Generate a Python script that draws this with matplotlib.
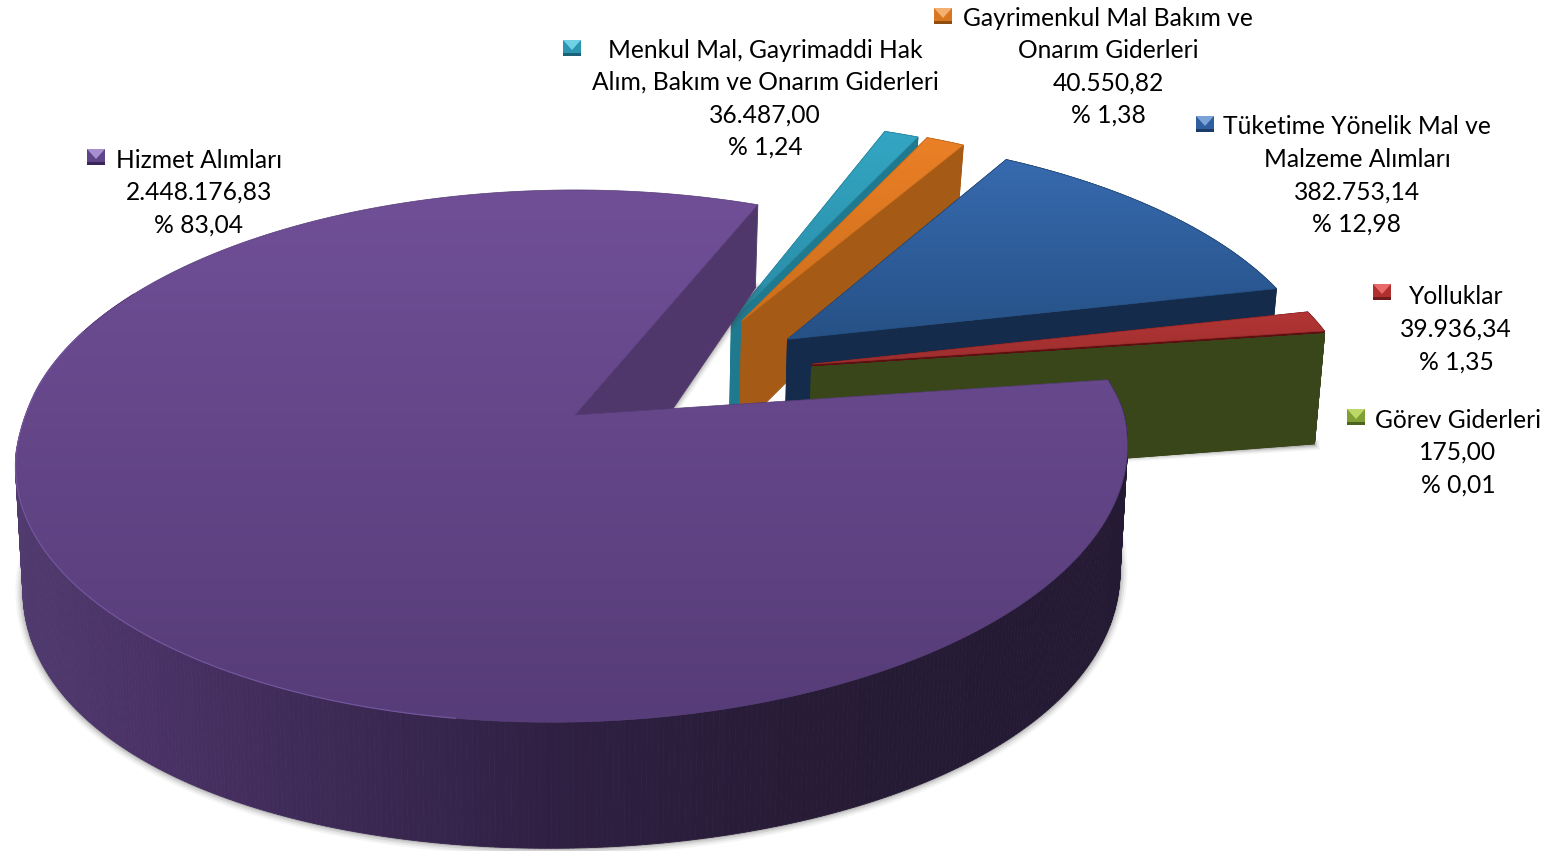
import numpy as np
import matplotlib
matplotlib.use("Agg")
import matplotlib.pyplot as plt
from matplotlib.colors import LinearSegmentedColormap, to_rgb
from matplotlib.patches import Polygon

names = ["Menkul Mal, Gayrimaddi Hak\nAlım, Bakım ve Onarım Giderleri",
         "Gayrimenkul Mal Bakım ve\nOnarım Giderleri",
         "Tüketime Yönelik Mal ve\nMalzeme Alımları",
         "Yolluklar",
         "Görev Giderleri",
         "Hizmet Alımları"]
values = [36487.00, 40550.82, 382753.14, 39936.34, 175.00, 2448176.83]

# camera of the fake 3d pie (pixels)
CX, CY = 575, 415
A, B, K = 549.4, 259.7, 0.154
A_BOT, CY_BOT, B_BOT, K_BOT = 542, 536, 287.7, 0.078
START = 22.1
# the original's perspective squeezes the small slices a bit
SQUEEZE_SMALL, STRETCH_BIG = 0.982, 1.0045

# how far each slice is pulled out, and in which direction
explode_r = [0.49, 0.50, 0.507, 0.489, 0.482, 0.0]
explode_dir = [38, 40, 53, 65.6, 66.8, 0]

top_cols = [("#33a6c3", "#2a8ba6"), ("#eb8026", "#cc6e1c"), ("#376aaf", "#265186"),
            ("#b43535", "#9c2e2e"), ("#39461a", "#39461a"), ("#704f97", "#563c78")]
wall_cols = ["#207a8f", "#a55a15", "#152b4b", "#5c0f10", "#39461a", "#50376b"]
key_cols = [("#6fd0e6", "#2c95b0", "#1b6276"), ("#f4b070", "#d9761f", "#8f4d10"),
            ("#7ba3d8", "#2f5f9f", "#1b3a66"), ("#e86a6a", "#b03030", "#6e1c1c"),
            ("#bcd868", "#80a035", "#4c6320"), ("#a890d0", "#5f4488", "#38265a")]

# text centre, first line y, legend key left/y
label_pos = [(765, 50, 563, 48), (1108, 18, 934, 16), (1357, 127, 1196, 124),
             (1456, 297, 1373, 292), (1458, 420, 1347, 417), (199, 160, 87, 157)]
LINE_H = 32.5


def project(u, v, bottom=False, warp=False):
    if bottom:
        x, y = CX + A_BOT * u / (1 + K * v), CY_BOT - B_BOT * v / (1 + K_BOT * v)
    else:
        x, y = CX + A * u / (1 + K * v), CY - B * v / (1 + K * v)
    if warp:
        # near half of the big slice leans slightly, left side lower
        wgt = np.clip((0.1 - v) / 0.2, 0, 1)
        x = x - 3.5 * wgt
        y = y - 0.018 * (x - CX) * wgt
    return x, y


def tr_num(x):
    return f"{x:,.2f}".replace(",", "#").replace(".", ",").replace("#", ".")


def quad(ax, x, y, col, z):
    ax.add_patch(Polygon(np.column_stack([x, y]), closed=True, fc=col, ec=col, lw=0.6, zorder=z))


def draw_slice(ax, i, t0, t1, z):
    big = i == 5
    ox = explode_r[i] * np.sin(np.radians(explode_dir[i]))
    oy = explode_r[i] * np.cos(np.radians(explode_dir[i]))
    deg = np.linspace(t0, t1, max(3, int((t1 - t0) * 2)))
    th = np.radians(deg)
    u, v = ox + np.sin(th), oy + np.cos(th)
    xt, yt = project(u, v, warp=big)
    xb, yb = project(u, v, True, warp=big)
    xa, ya = project(np.array([ox]), np.array([oy]))
    xc, yc = project(np.array([ox]), np.array([oy]), True)

    # soft shadow under the lower edges
    for w, al in zip([15, 11, 7, 3], [0.05, 0.08, 0.12, 0.2]):
        if big:
            sel = (deg > 92) & (deg < 285)
            ax.plot(xb[sel], yb[sel], color="#404040", lw=w * 0.72, alpha=al, zorder=z,
                    solid_capstyle="round")
            # shadow in the gap, below the wall of the big slice
            ax.plot([xc[0], xb[-1]], [yc[0] + 16, yb[-1]], color="#404040", lw=w * 0.6, alpha=al, zorder=z)
        if i == 4:
            ax.plot([xb[-1], 1125], [yb[-1] + 1, yb[-1] + 13], color="#404040", lw=w * 0.5, alpha=al, zorder=z)

    # inner walls
    if big:
        quad(ax, [xa[0], xt[-1], xb[-1], xc[0]], [ya[0], yt[-1], yb[-1], yc[0] + 16], wall_cols[i], z + 0.1)
    else:
        quad(ax, [xa[0], xt[0], xb[0], xc[0]], [ya[0], yt[0], yb[0], yc[0]], wall_cols[i], z + 0.1)
        quad(ax, [xa[0], xt[-1], xb[-1], xc[0]], [ya[0], yt[-1], yb[-1], yc[0]], wall_cols[i], z + 0.1)

    # outer rim, shaded across the picture for the big slice
    rim_x = [20, 150, 300, 550, 800, 1125]
    rim_c = np.array([to_rgb(c) for c in ["#503a6e", "#4a3266", "#3f2b58", "#2f2043", "#271b36", "#241a33"]])
    for j in range(len(th) - 1):
        if big:
            if deg[j] < 80 or deg[j] > 300:
                continue
            mx = (xb[j] + xb[j + 1]) / 2
            col = [np.interp(mx, rim_x, rim_c[:, c]) for c in range(3)]
        else:
            col = wall_cols[i]
        quad(ax, [xt[j], xt[j + 1], xb[j + 1], xb[j]], [yt[j], yt[j + 1], yb[j + 1], yb[j]], col, z + 0.2)

    # top face with vertical gradient
    px = np.r_[xa, xt]
    py = np.r_[ya, yt]
    poly = Polygon(np.column_stack([px, py]), closed=True, fc="none", ec="none", zorder=z + 0.3)
    ax.add_patch(poly)
    cmap = LinearSegmentedColormap.from_list("g", top_cols[i])
    im = ax.imshow(np.linspace(0, 1, 256).reshape(-1, 1), cmap=cmap, aspect="auto",
                   extent=(px.min(), px.max(), py.max(), py.min()), zorder=z + 0.3)
    im.set_clip_path(poly)
    ax.add_patch(Polygon(np.column_stack([px, py]), closed=True, fc="none",
                         ec=top_cols[i][1], lw=0.5, zorder=z + 0.31))
    if big:
        sel = (deg > 190) & (deg < 290)
        ax.plot(xt[sel], yt[sel], color="#7a5ca8", lw=0.9, alpha=0.8, zorder=z + 0.32)


def draw_key(ax, x, y, cols):
    w, h = 18, 16
    lt, md, dk = cols
    mx, my = x + w / 2, y + h / 2
    ax.add_patch(Polygon([[x, y], [x + w, y], [x + w, y + h], [x, y + h]], fc=md, ec="none", zorder=20))
    ax.add_patch(Polygon([[x, y], [x + w, y], [mx, my + 2]], fc=lt, ec="none", zorder=21))
    ax.add_patch(Polygon([[x, y + h - 3], [x + w, y + h - 3], [x + w, y + h], [x, y + h]],
                         fc=dk, ec="none", zorder=21))


def main():
    plt.rcParams["font.family"] = ["Lato", "DejaVu Sans"]
    fig = plt.figure(figsize=(15.49, 8.51), dpi=100)
    ax = fig.add_axes([0, 0, 1, 1])
    ax.axis("off")

    total = sum(values)
    t = START
    for i, val in enumerate(values):
        sweep = val / total * 360
        sweep *= STRETCH_BIG if i == 5 else SQUEEZE_SMALL
        draw_slice(ax, i, t, t + sweep, z=2 + i)
        t += sweep

    for i, name in enumerate(names):
        cx, y0, kx, ky = label_pos[i]
        pct = values[i] / total * 100
        lines = name.split("\n") + [tr_num(values[i]), "% " + f"{pct:.2f}".replace(".", ",")]
        for j, line in enumerate(lines):
            ax.text(cx, y0 + j * LINE_H, line, ha="center", va="center", fontsize=17.75,
                    color="black", zorder=30)
        draw_key(ax, kx, ky - 8, key_cols[i])

    ax.set_xlim(0, 1549)
    ax.set_ylim(851, 0)
    fig.savefig("out.png", dpi=100)
    plt.close(fig)


if __name__ == "__main__":
    main()
